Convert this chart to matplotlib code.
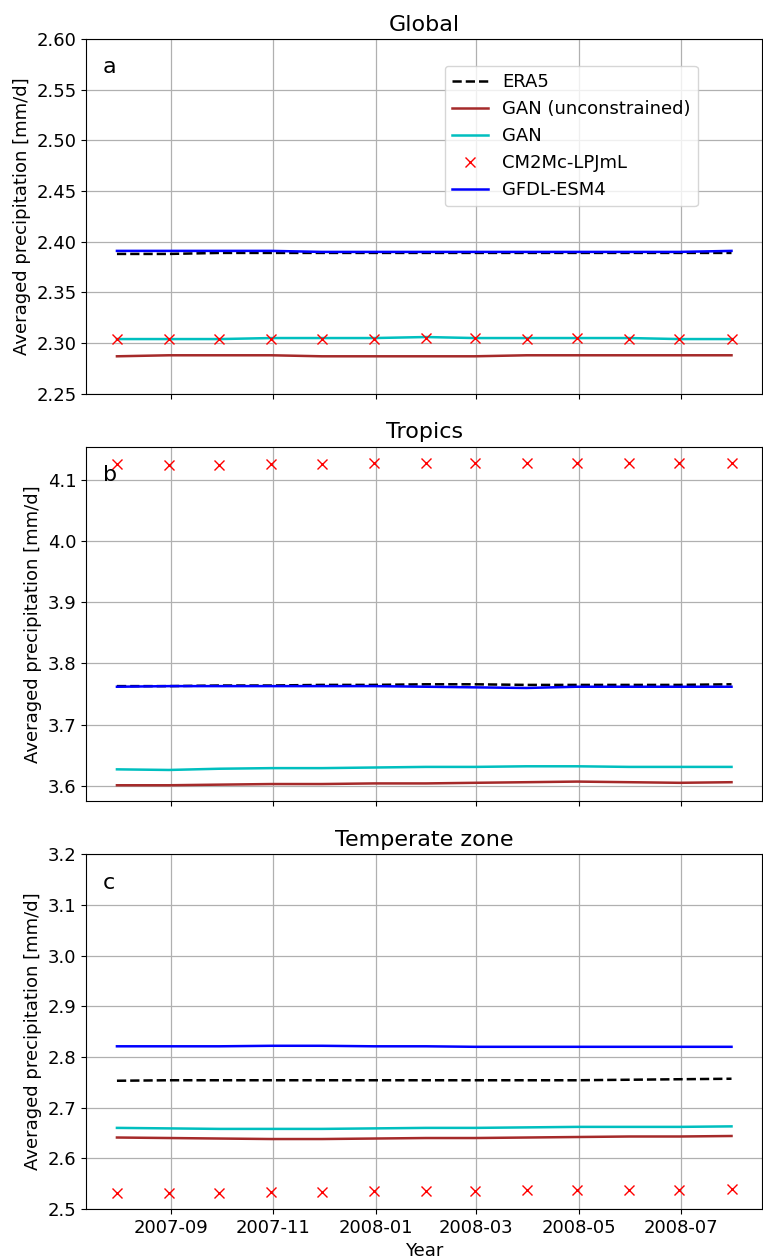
import numpy as np
import pandas as pd
import matplotlib
matplotlib.use("Agg")
import matplotlib.pyplot as plt
import matplotlib.dates as mdates

plt.rcParams["font.size"] = 13

dates = pd.date_range("2007-07-31", periods=13, freq="ME")

titles = ["Global", "Tropics", "Temperate zone"]
letters = ["a", "b", "c"]

era5 = [
    [2.388, 2.388, 2.389, 2.389, 2.389, 2.389, 2.389, 2.389, 2.389, 2.389, 2.389, 2.389, 2.389],
    [3.763, 3.763, 3.764, 3.764, 3.765, 3.765, 3.766, 3.766, 3.765, 3.765, 3.765, 3.765, 3.766],
    [2.753, 2.754, 2.754, 2.754, 2.754, 2.754, 2.754, 2.754, 2.754, 2.754, 2.755, 2.756, 2.757],
]
gan_unc = [
    [2.287, 2.288, 2.288, 2.288, 2.287, 2.287, 2.287, 2.287, 2.288, 2.288, 2.288, 2.288, 2.288],
    [3.601, 3.601, 3.602, 3.603, 3.603, 3.604, 3.604, 3.605, 3.606, 3.607, 3.606, 3.605, 3.606],
    [2.641, 2.640, 2.639, 2.638, 2.638, 2.639, 2.640, 2.640, 2.641, 2.642, 2.643, 2.643, 2.644],
]
gan = [
    [2.304, 2.304, 2.304, 2.305, 2.305, 2.305, 2.306, 2.305, 2.305, 2.305, 2.305, 2.304, 2.304],
    [3.627, 3.626, 3.628, 3.629, 3.629, 3.630, 3.631, 3.631, 3.632, 3.632, 3.631, 3.631, 3.631],
    [2.660, 2.659, 2.658, 2.658, 2.658, 2.659, 2.660, 2.660, 2.661, 2.662, 2.662, 2.662, 2.663],
]
cm2mc = [
    [2.304, 2.304, 2.304, 2.304, 2.304, 2.304, 2.305, 2.305, 2.304, 2.305, 2.304, 2.304, 2.304],
    [4.126, 4.124, 4.124, 4.126, 4.126, 4.128, 4.127, 4.127, 4.127, 4.128, 4.127, 4.127, 4.127],
    [2.532, 2.532, 2.532, 2.534, 2.534, 2.535, 2.536, 2.536, 2.537, 2.537, 2.537, 2.537, 2.539],
]
gfdl = [
    [2.391, 2.391, 2.391, 2.391, 2.390, 2.390, 2.390, 2.390, 2.390, 2.390, 2.390, 2.390, 2.391],
    [3.762, 3.763, 3.763, 3.763, 3.763, 3.763, 3.762, 3.761, 3.760, 3.762, 3.762, 3.762, 3.762],
    [2.821, 2.821, 2.821, 2.822, 2.822, 2.821, 2.821, 2.820, 2.820, 2.820, 2.820, 2.820, 2.820],
]
ylims = [(2.25, 2.60), None, (2.5, 3.2)]

fig, axes = plt.subplots(3, 1, figsize=(7.63, 12.6), dpi=100, sharex=True)
fig.subplots_adjust(left=0.113, right=0.999, top=0.969, bottom=0.0405, hspace=0.149)

for i, ax in enumerate(axes):
    ax.plot(dates, era5[i], "k--", lw=1.8, label="ERA5")
    ax.plot(dates, gan_unc[i], color="brown", lw=1.8, label="GAN (unconstrained)")
    ax.plot(dates, gan[i], color="c", lw=1.8, label="GAN")
    ax.plot(dates, cm2mc[i], "rx", ms=7, label="CM2Mc-LPJmL")
    ax.plot(dates, gfdl[i], color="b", lw=1.8, label="GFDL-ESM4")
    if ylims[i] is not None:
        ax.set_ylim(*ylims[i])
    ax.set_title(titles[i], fontsize=16)
    ax.set_ylabel("Averaged precipitation [mm/d]")
    ax.text(0.025, 0.92, letters[i], transform=ax.transAxes, fontsize=16, va="center")
    ax.grid(True, color="#b0b0b0", lw=0.9)

axes[0].yaxis.set_major_formatter(matplotlib.ticker.FormatStrFormatter("%.2f"))
axes[0].legend(loc="upper right", bbox_to_anchor=(0.905, 0.925), borderaxespad=0)
axes[2].xaxis.set_major_locator(mdates.MonthLocator(bymonth=[1, 3, 5, 7, 9, 11]))
axes[2].xaxis.set_major_formatter(mdates.DateFormatter("%Y-%m"))
axes[2].set_xlabel("Year")

fig.savefig("out.png", dpi=100)
